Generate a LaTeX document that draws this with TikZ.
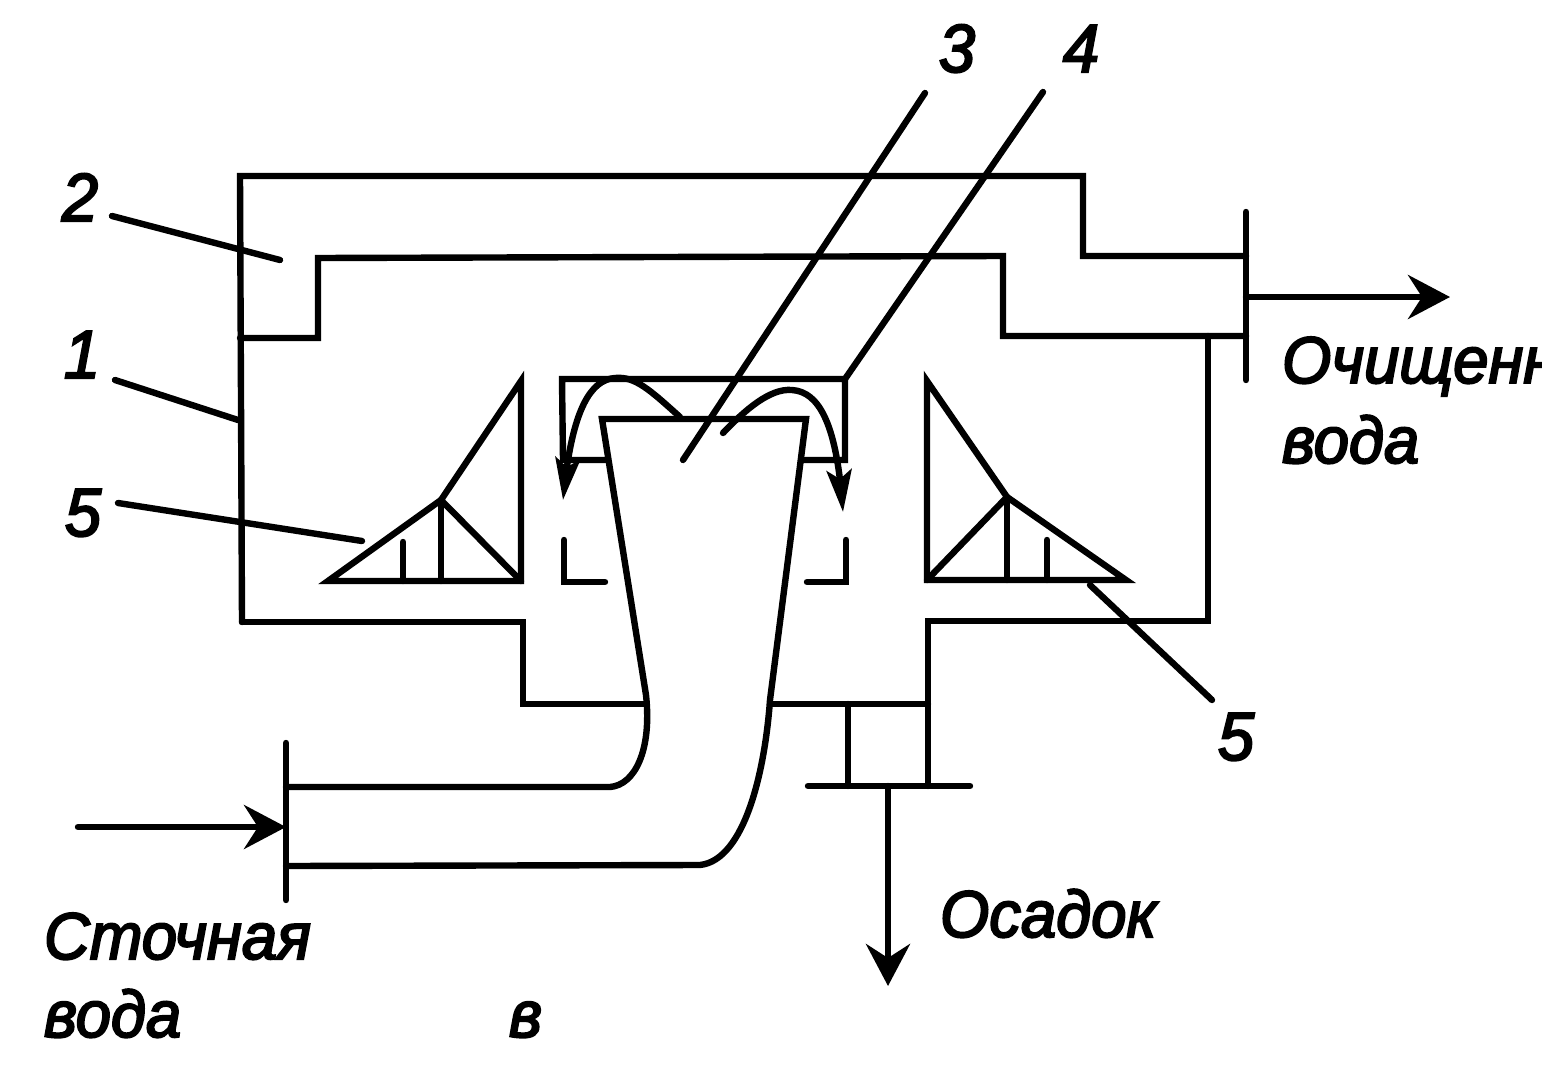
\documentclass[tikz,border=0pt]{standalone}
\usepackage{fontspec}
\setmainfont{Liberation Sans}
\newfontfamily\scanfont[FakeBold=3,FakeStretch=0.96]{Liberation Sans}
\usetikzlibrary{arrows.meta,bending}
\tikzset{
 ln/.style={line width=6.4pt,black,line cap=round,line join=miter},
 ar/.style={ln,-{Stealth[length=42pt,width=44pt,inset=14pt]}},
 car/.style={ln,-{Stealth[length=42pt,width=25pt,inset=9pt,flex]}},
 txt/.style={font=\fontsize{66pt}{66pt}\scanfont\itshape,anchor=base west,inner sep=0pt,outer sep=0pt},
 numi/.style={font=\fontsize{68pt}{68pt}\scanfont\itshape,anchor=base,inner sep=0pt},
}
\begin{document}
\begin{tikzpicture}[x=1pt,y=-1pt]
\useasboundingbox (0,0) rectangle (1542,1070);
\fill[white] (0,0) rectangle (1542,1070);
\draw[ln] (242,622) -- (240,176) -- (1083,176) -- (1083,256) -- (1246,256);
\draw[ln] (240,338) -- (318,338) -- (318,258) -- (1003,256) -- (1003,336) -- (1246,336);
\draw[ln] (1246,212) -- (1246,380);
\draw[ln] (1208,336) -- (1208,621) -- (928,621) -- (928,786);
\draw[ln] (242,622) -- (523,622) -- (523,704) -- (645,704);
\draw[ln] (770,704) -- (928,704);
\draw[ln] (848,704) -- (848,786);
\draw[ln] (808,786) -- (970,786);
\draw[ln] (286,743) -- (286,900);
\draw[ln] (286,787) -- (610,787) .. controls (635,785) and (652,750) .. (646,695) -- (602,419) -- (806,419) -- (770,700) .. controls (765,770) and (745,860) .. (700,865) -- (286,866);
\draw[ln] (606,460) -- (563,460) -- (562,379) -- (845,379) -- (845,460) -- (802,460);
\draw[ln] (564,540) -- (564,582) -- (605,582);
\draw[ln] (807,582) -- (846,582) -- (846,540);
% left cone
\draw[ln] (328,581) -- (441,500) -- (521,381) -- (521,581) -- cycle;
\draw[ln] (441,500) -- (441,581);
\draw[ln] (441,500) -- (521,581);
\draw[ln] (403,542) -- (403,581);
% right cone
\draw[ln] (1126,580) -- (1007,497) -- (927,381) -- (927,580) -- cycle;
\draw[ln] (1007,497) -- (1007,580);
\draw[ln] (1007,497) -- (927,580);
\draw[ln] (1047,540) -- (1047,580);
% arrows
\draw[ar] (1246,297) -- (1450,297);
\draw[ar] (78,827) -- (286,827);
\draw[ar] (888,786) -- (888,986);
\draw[car] (680,417) .. controls (650,390) and (635,376) .. (615,378) .. controls (585,380) and (570,425) .. (563,500);
\draw[car] (723,433) .. controls (745,410) and (770,388) .. (792,390) .. controls (825,392) and (838,440) .. (843,512);
% leaders
\draw[ln] (112,216) -- (280,260);
\draw[ln] (115,380) -- (238,420);
\draw[ln] (118,503) -- (362,541);
\draw[ln] (925,93) -- (683,460);
\draw[ln] (1043,92) -- (845,379);
\draw[ln] (1090,585) -- (1212,700);
% labels
\node[numi] (n3) at (957,72) {3};
\node[numi] (n4) at (1081,72) {4};
\node[numi] (n2) at (80,221) {2};
\node[numi] (n1) at (82,378) {1};
\node[numi] (n5a) at (83,536) {5};
\node[numi] (n5b) at (1236,760) {5};
\begin{scope}
\clip (0,0) rectangle (1542,1070);
\node[txt] (t1) at (1282,383) {Очищенная};
\end{scope}
\node[txt] (t2) at (1282,463) {вода};
\node[txt] (t3) at (44,959) {Сточная};
\node[txt] (t4) at (44,1037) {вода};
\node[txt] (t5) at (940,937) {Осадок};
\node[txt] (t6) at (509,1037) {в};
\end{tikzpicture}
\end{document}
